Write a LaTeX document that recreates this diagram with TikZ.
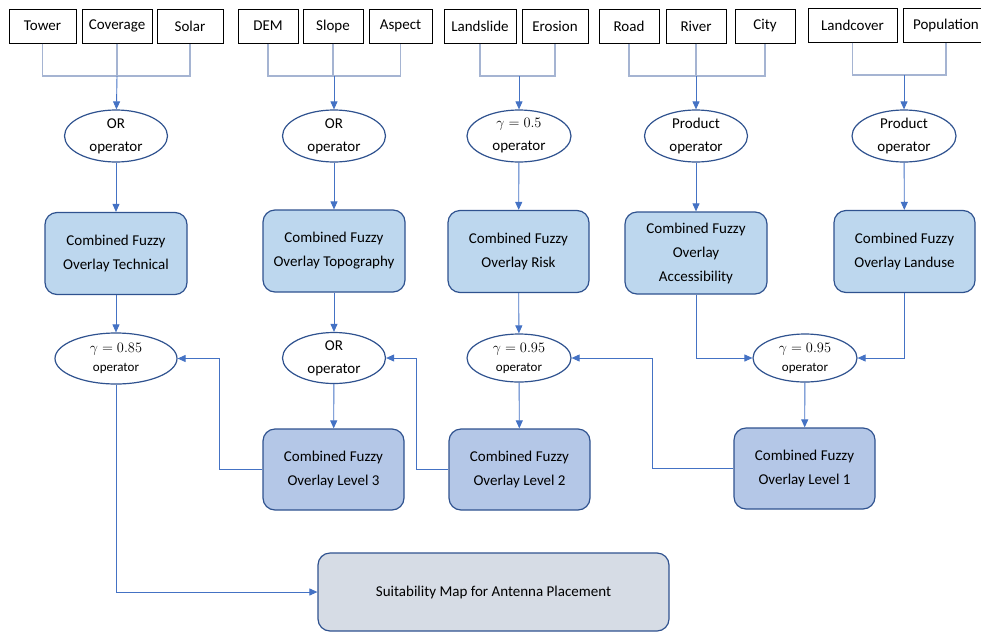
\documentclass[tikz,border=0pt]{standalone}
\usepackage{fontspec}
\setmainfont{Carlito}
\usetikzlibrary{
  arrows.meta,
  shapes.geometric,
  positioning
}
\definecolor{flowBlue}{HTML}{4472C4}
\definecolor{joinGrey}{HTML}{A5B4D2}
\definecolor{edgeBlue}{HTML}{2F528F}
\definecolor{fuzzyA}{HTML}{BDD7EE}
\definecolor{fuzzyB}{HTML}{B4C7E7}
\definecolor{mapGrey}{HTML}{D6DCE5}

\tikzset{
  layer/.style={draw=black, line width=1pt, minimum height=34, inner sep=0pt,
    font=\fontsize{15}{17}\selectfont},
  oper/.style={ellipse, draw=edgeBlue, line width=1.2pt, fill=white,
    minimum width=103, minimum height=52, inner sep=0pt, align=center,
    font=\fontsize{15}{23}\selectfont},
  fuzzy/.style={draw=edgeBlue, line width=1.2pt, rounded corners=12pt,
    fill=fuzzyA, minimum width=142, minimum height=82, inner sep=0pt,
    align=center, font=\fontsize{15}{24}\selectfont},
  level/.style={fuzzy, fill=fuzzyB, minimum width=141, minimum height=81},
  joinline/.style={draw=joinGrey, line width=1.2pt},
  flow/.style={draw=flowBlue, line width=0.9pt, -{Triangle[length=8pt,width=7pt]}}
}

\begin{document}
\begin{tikzpicture}[x=1pt, y=-1pt]
  \useasboundingbox (0,0) rectangle (981,632);

  % input layers
  \node[layer, minimum width=67] (tower) at (42.5,26) {Tower};
  \node[layer, minimum width=70] (coverage) at (117,26) {Coverage};
  \node[layer, minimum width=66] (solar) at (190,26) {Solar};
  \node[layer, minimum width=60] (dem) at (268,26) {DEM};
  \node[layer, minimum width=60] (slope) at (333,26) {Slope};
  \node[layer, minimum width=63] (aspect) at (400.5,26) {Aspect};
  \node[layer, minimum width=72] (landslide) at (480,26) {Landslide};
  \node[layer, minimum width=66] (erosion) at (555,26) {Erosion};
  \node[layer, minimum width=60] (road) at (629,26) {Road};
  \node[layer, minimum width=60] (river) at (696,26) {River};
  \node[layer, minimum width=60] (city) at (765,26) {City};
  \node[layer, minimum width=89] (landcover) at (852.5,25) {Landcover};
  \node[layer, minimum width=86] (population) at (946,25) {Population};

  % first operators
  \node[oper] (orTech) at (116,136) {OR\\operator};
  \node[oper] (orTopo) at (334,136) {OR\\operator};
  \node[oper, minimum width=104] (gamRisk) at (519,136) {$\gamma = 0.5$\\operator};
  \node[oper] (prodAcc) at (696,136) {Product\\operator};
  \node[oper, minimum width=104] (prodLand) at (904,136) {Product\\operator};

  % joins
  \coordinate (j1) at (117,76);
  \coordinate (j2) at (334,76);
  \coordinate (j3) at (519,76);
  \coordinate (j4) at (696,76);
  \coordinate (j5) at (904,75);
  \draw[joinline] (tower.south) -- (tower.south |- j1) -- (solar.south |- j1) -- (solar.south);
  \draw[joinline] (coverage.south) -- (j1);
  \draw[joinline] (dem.south) -- (dem.south |- j2) -- (aspect.south |- j2) -- (aspect.south);
  \draw[joinline] (slope.south) -- (slope.south |- j2);
  \draw[joinline] (landslide.south) -- (landslide.south |- j3) -- (erosion.south |- j3) -- (erosion.south);
  \draw[joinline] (road.south) -- (road.south |- j4) -- (city.south |- j4) -- (city.south);
  \draw[joinline] (river.south) -- (j4);
  \draw[joinline] (landcover.south) -- (landcover.south |- j5) -- (population.south |- j5) -- (population.south);
  \draw[flow] (j1) -- (orTech);
  \draw[flow] (j2) -- (orTopo);
  \draw[flow] (j3) -- (gamRisk);
  \draw[flow] (j4) -- (prodAcc);
  \draw[flow] (j5) -- (prodLand);

  % combined overlays
  \node[fuzzy] (tech) at (116,253.5) {Combined Fuzzy\\Overlay Technical};
  \node[fuzzy] (topo) at (334,251) {Combined Fuzzy\\Overlay Topography};
  \node[fuzzy, minimum width=141] (risk) at (518.5,251.5) {Combined Fuzzy\\Overlay Risk};
  \node[fuzzy] (access) at (696,253) {Combined Fuzzy\\Overlay\\Accessibility};
  \node[fuzzy, minimum width=141] (landuse) at (904.5,251.5) {Combined Fuzzy\\Overlay Landuse};
  \draw[flow] (orTech) -- (tech);
  \draw[flow] (orTopo) -- (topo);
  \draw[flow] (gamRisk) -- (risk);
  \draw[flow] (prodAcc) -- (access);
  \draw[flow] (prodLand) -- (landuse);

  % second operators
  \node[oper, minimum width=122, minimum height=51] (gamTech) at (116,358.5)
    {$\gamma = 0.85$\\[-4pt]{\fontsize{13}{14}\selectfont operator}};
  \node[oper, minimum height=51] (orLvl) at (334,358) {OR\\operator};
  \node[oper, minimum width=104, minimum height=48] (gamLvl) at (519,358)
    {$\gamma = 0.95$\\[-4pt]{\fontsize{13}{14}\selectfont operator}};
  \node[oper, minimum width=104, minimum height=48] (gamAcc) at (805,358)
    {$\gamma = 0.95$\\[-4pt]{\fontsize{13}{14}\selectfont operator}};
  \draw[flow] (tech) -- (gamTech);
  \draw[flow] (topo) -- (orLvl);
  \draw[flow] (risk) -- (gamLvl);
  \draw[flow] (access.south) |- (gamAcc.west);
  \draw[flow] (landuse.south) |- (gamAcc.east);

  % levels
  \node[level] (lvl3) at (333.5,469.5) {Combined Fuzzy\\Overlay Level 3};
  \node[level] (lvl2) at (519.5,469.5) {Combined Fuzzy\\Overlay Level 2};
  \node[level] (lvl1) at (804.5,468.5) {Combined Fuzzy\\Overlay Level 1};
  \draw[flow] (orLvl) -- (lvl3);
  \draw[flow] (gamLvl) -- (lvl2);
  \draw[flow] (gamAcc) -- (lvl1);
  \draw[flow] (lvl3.west) -- ++(-43,0) |- (gamTech.east);
  \draw[flow] (lvl2.west) -- ++(-32,0) |- (orLvl.east);
  \draw[flow] (lvl1.west) -- ++(-81,0) |- (gamLvl.east);

  % result
  \node[fuzzy, fill=mapGrey, minimum width=351, minimum height=78] (suit) at (493.5,592)
    {Suitability Map for Antenna Placement};
  \draw[flow] (gamTech.south) |- (suit.west);
\end{tikzpicture}
\end{document}
